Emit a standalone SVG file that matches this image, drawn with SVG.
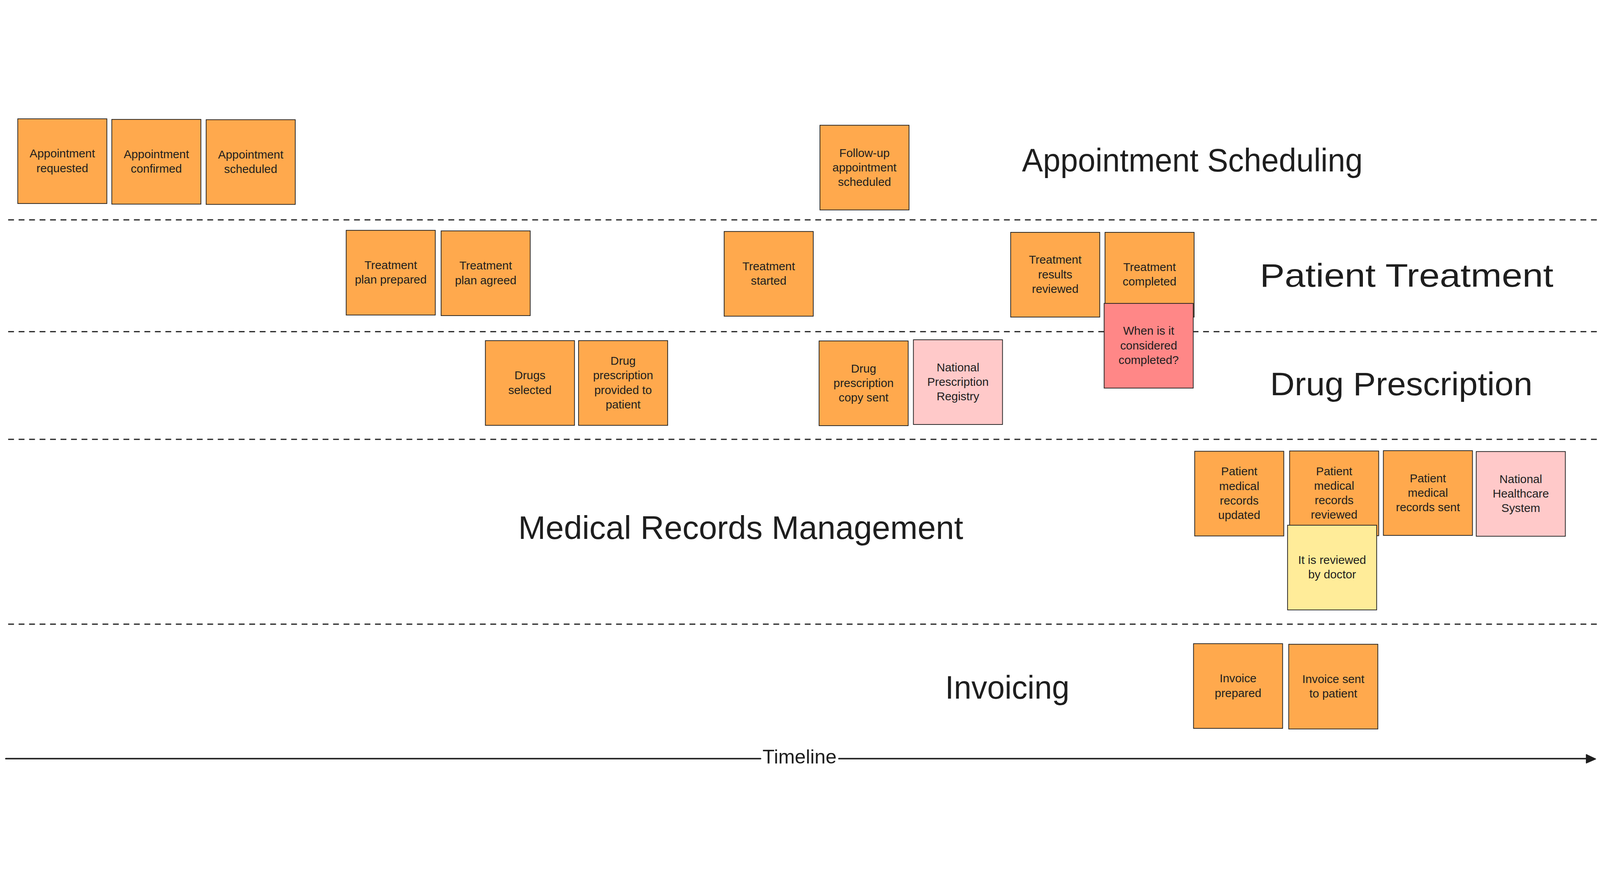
<svg xmlns="http://www.w3.org/2000/svg" width="5495" height="2279" viewBox="0 0 5495 2279" preserveAspectRatio="xMidYMid meet" style="width:100vw;height:100vh;display:block">
<style>
.bg{fill:#ffffff}
.lane{fill:none;stroke:#1e1e1e;stroke-width:4;stroke-dasharray:20 16}
.note{stroke:#1e1e1e;stroke-width:2.5}
.orange{fill:#ffa94d}
.pink{fill:#ffc9c9}
.red{fill:#ff8787}
.yellow{fill:#ffec99}
.lbl{font-family:"Liberation Sans",Arial,sans-serif;font-size:40px;fill:#1e1e1e;text-anchor:middle}
.title{font-family:"Liberation Sans",Arial,sans-serif;font-size:112px;fill:#1e1e1e}
.axis{fill:none;stroke:#1e1e1e;stroke-width:5;stroke-linecap:round}
.axislbl{font-family:"Liberation Sans",Arial,sans-serif;font-size:68px;fill:#1e1e1e;text-anchor:middle}
</style>
<rect class="bg" x="0" y="0" width="5495" height="2279"/>

<g id="lanes">
<line class="lane" x1="28" y1="366" x2="5488" y2="366"/>
<line class="lane" x1="28" y1="750" x2="5488" y2="750"/>
<line class="lane" x1="28" y1="1120" x2="5488" y2="1120"/>
<line class="lane" x1="28" y1="1755" x2="5488" y2="1755"/>
</g>

<g id="titles">
<text class="title" x="3510" y="200" textLength="1170" lengthAdjust="spacingAndGlyphs">Appointment Scheduling</text>
<text class="title" x="4327" y="596" textLength="1008" lengthAdjust="spacingAndGlyphs">Patient Treatment</text>
<text class="title" x="4362" y="968" textLength="901" lengthAdjust="spacingAndGlyphs">Drug Prescription</text>
<text class="title" x="1780" y="1462" textLength="1528" lengthAdjust="spacingAndGlyphs">Medical Records Management</text>
<text class="title" x="3246" y="2011" textLength="427" lengthAdjust="spacingAndGlyphs">Invoicing</text>
</g>

<g id="n-appointment-requested">
<rect class="note orange" x="61" y="19" width="306" height="291"/>
<text class="lbl"><tspan x="214" y="152">Appointment</tspan><tspan x="214" y="202">requested</tspan></text>
</g>
<g id="n-appointment-confirmed">
<rect class="note orange" x="384" y="21" width="306" height="291"/>
<text class="lbl"><tspan x="537" y="154">Appointment</tspan><tspan x="537" y="204">confirmed</tspan></text>
</g>
<g id="n-appointment-scheduled">
<rect class="note orange" x="708" y="22" width="306" height="291"/>
<text class="lbl"><tspan x="861" y="155">Appointment</tspan><tspan x="861" y="205">scheduled</tspan></text>
</g>
<g id="n-followup-scheduled">
<rect class="note orange" x="2816" y="41" width="306" height="291"/>
<text class="lbl"><tspan x="2969" y="150">Follow-up</tspan><tspan x="2969" y="200">appointment</tspan><tspan x="2969" y="250">scheduled</tspan></text>
</g>

<g id="n-treatment-plan-prepared">
<rect class="note orange" x="1189" y="402" width="306" height="291"/>
<text class="lbl"><tspan x="1342" y="535">Treatment</tspan><tspan x="1342" y="585">plan prepared</tspan></text>
</g>
<g id="n-treatment-plan-agreed">
<rect class="note orange" x="1515" y="404" width="306" height="291"/>
<text class="lbl"><tspan x="1668" y="537">Treatment</tspan><tspan x="1668" y="587">plan agreed</tspan></text>
</g>
<g id="n-treatment-started">
<rect class="note orange" x="2487" y="406" width="306" height="291"/>
<text class="lbl"><tspan x="2640" y="539">Treatment</tspan><tspan x="2640" y="589">started</tspan></text>
</g>
<g id="n-treatment-results-reviewed">
<rect class="note orange" x="3471" y="409" width="306" height="291"/>
<text class="lbl"><tspan x="3624" y="517">Treatment</tspan><tspan x="3624" y="567">results</tspan><tspan x="3624" y="617">reviewed</tspan></text>
</g>
<g id="n-treatment-completed">
<rect class="note orange" x="3795" y="409" width="306" height="291"/>
<text class="lbl"><tspan x="3948" y="542">Treatment</tspan><tspan x="3948" y="592">completed</tspan></text>
</g>
<g id="n-question-completed">
<rect class="note red" x="3792" y="653" width="306" height="291"/>
<text class="lbl"><tspan x="3945" y="761">When is it</tspan><tspan x="3945" y="811">considered</tspan><tspan x="3945" y="861">completed?</tspan></text>
</g>

<g id="n-drugs-selected">
<rect class="note orange" x="1667" y="781" width="306" height="291"/>
<text class="lbl"><tspan x="1820" y="914">Drugs</tspan><tspan x="1820" y="964">selected</tspan></text>
</g>
<g id="n-prescription-provided">
<rect class="note orange" x="1987" y="781" width="306" height="291"/>
<text class="lbl"><tspan x="2140" y="864">Drug</tspan><tspan x="2140" y="914">prescription</tspan><tspan x="2140" y="964">provided to</tspan><tspan x="2140" y="1014">patient</tspan></text>
</g>
<g id="n-prescription-copy-sent">
<rect class="note orange" x="2813" y="782" width="306" height="291"/>
<text class="lbl"><tspan x="2966" y="890">Drug</tspan><tspan x="2966" y="940">prescription</tspan><tspan x="2966" y="990">copy sent</tspan></text>
</g>
<g id="n-national-prescription-registry">
<rect class="note pink" x="3137" y="778" width="306" height="291"/>
<text class="lbl"><tspan x="3290" y="886">National</tspan><tspan x="3290" y="936">Prescription</tspan><tspan x="3290" y="986">Registry</tspan></text>
</g>

<g id="n-records-updated">
<rect class="note orange" x="4103" y="1161" width="306" height="291"/>
<text class="lbl"><tspan x="4256" y="1244">Patient</tspan><tspan x="4256" y="1294">medical</tspan><tspan x="4256" y="1344">records</tspan><tspan x="4256" y="1394">updated</tspan></text>
</g>
<g id="n-records-reviewed">
<rect class="note orange" x="4429" y="1160" width="306" height="291"/>
<text class="lbl"><tspan x="4582" y="1243">Patient</tspan><tspan x="4582" y="1293">medical</tspan><tspan x="4582" y="1343">records</tspan><tspan x="4582" y="1393">reviewed</tspan></text>
</g>
<g id="n-reviewed-by-doctor">
<rect class="note yellow" x="4422" y="1415" width="306" height="291"/>
<text class="lbl"><tspan x="4575" y="1548">It is reviewed</tspan><tspan x="4575" y="1598">by doctor</tspan></text>
</g>
<g id="n-records-sent">
<rect class="note orange" x="4751" y="1159" width="306" height="291"/>
<text class="lbl"><tspan x="4904" y="1267">Patient</tspan><tspan x="4904" y="1317">medical</tspan><tspan x="4904" y="1367">records sent</tspan></text>
</g>
<g id="n-national-healthcare-system">
<rect class="note pink" x="5070" y="1162" width="306" height="291"/>
<text class="lbl"><tspan x="5223" y="1270">National</tspan><tspan x="5223" y="1320">Healthcare</tspan><tspan x="5223" y="1370">System</tspan></text>
</g>

<g id="n-invoice-prepared">
<rect class="note orange" x="4099" y="1822" width="306" height="291"/>
<text class="lbl"><tspan x="4252" y="1955">Invoice</tspan><tspan x="4252" y="2005">prepared</tspan></text>
</g>
<g id="n-invoice-sent">
<rect class="note orange" x="4426" y="1824" width="306" height="291"/>
<text class="lbl"><tspan x="4579" y="1957">Invoice sent</tspan><tspan x="4579" y="2007">to patient</tspan></text>
</g>

<g id="connectors">
<line class="axis" x1="20" y1="2217" x2="2612" y2="2217"/>
<line class="axis" x1="2881" y1="2217" x2="5450" y2="2217"/>
<polygon points="5480,2218 5448,2203 5448,2232" fill="#1e1e1e" stroke="#1e1e1e" stroke-width="3" stroke-linejoin="round"/>
<text class="axislbl" x="2746" y="2234">Timeline</text>
</g>
</svg>
